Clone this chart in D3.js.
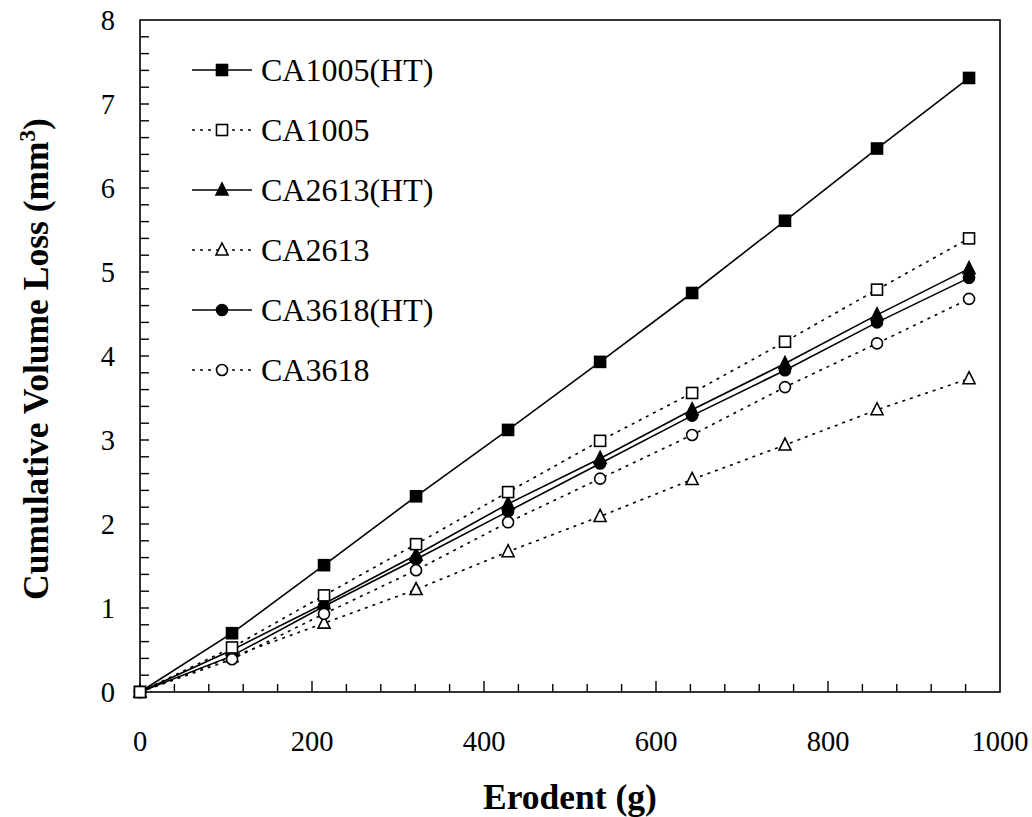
<!DOCTYPE html>
<html>
<head>
<meta charset="utf-8">
<script src="https://cdn.jsdelivr.net/npm/d3@7"></script>
<style>
  body { margin: 0; background: #fff; }
</style>
</head>
<body>
<div id="chart"></div>
<script>
const width = 1032;
const height = 817;
const serif = "Liberation Serif";

// erodent mass (g)
const erodent = [0, 107, 214, 321, 428, 535, 642, 750, 857, 964];

const ca1005ht = [0, 0.70, 1.51, 2.33, 3.12, 3.93, 4.75, 5.61, 6.47, 7.31];
const ca1005   = [0, 0.53, 1.15, 1.76, 2.38, 2.99, 3.56, 4.17, 4.79, 5.40];
const ca2613ht = [0, 0.50, 1.05, 1.63, 2.24, 2.78, 3.36, 3.91, 4.49, 5.04];
const ca2613   = [0, 0.42, 0.82, 1.22, 1.67, 2.09, 2.53, 2.94, 3.36, 3.73];
const ca3618ht = [0, 0.43, 1.02, 1.58, 2.15, 2.72, 3.29, 3.83, 4.40, 4.93];
const ca3618   = [0, 0.39, 0.93, 1.45, 2.02, 2.54, 3.06, 3.63, 4.15, 4.68];

const seriesNames = ["CA1005(HT)", "CA1005", "CA2613(HT)", "CA2613", "CA3618(HT)", "CA3618"];
const seriesValues = [ca1005ht, ca1005, ca2613ht, ca2613, ca3618ht, ca3618];
const seriesShape = ["square", "square", "triangle", "triangle", "circle", "circle"];
const seriesFilled = [true, false, true, false, true, false];
const drawOrder = [0, 2, 3, 4, 5, 1];

const xTicks = [0, 200, 400, 600, 800, 1000];
const yTicks = [0, 1, 2, 3, 4, 5, 6, 7, 8];

const margin = { left: 140, top: 20, right: 32, bottom: 125 };

const svg = d3.select("#chart")
  .append("svg")
  .attr("width", width)
  .attr("height", height)
  .attr("font-family", serif);

const x = d3.scaleLinear().domain([0, 1000]).range([margin.left, width - margin.right]);
const y = d3.scaleLinear().domain([0, 8]).range([height - margin.bottom, margin.top]);

// frame
svg.append("rect")
  .attr("x", x(0)).attr("y", y(8))
  .attr("width", x(1000) - x(0)).attr("height", y(0) - y(8))
  .attr("fill", "none").attr("stroke", "#000").attr("stroke-width", 1.6);

// minor + major ticks pointing inward
const xMinor = d3.range(0, 1001, 40);
svg.append("g")
  .selectAll("line")
  .data(xMinor.filter(d => d > 0 && d < 1000))
  .join("line")
  .attr("x1", d => x(d)).attr("x2", d => x(d))
  .attr("y1", y(0)).attr("y2", d => y(0) - (d % 200 === 0 ? 11 : 8))
  .attr("stroke", "#000").attr("stroke-width", 1.4);

const yMinor = d3.range(0, 8.01, 0.2).map(d => +d.toFixed(1));
svg.append("g")
  .selectAll("line")
  .data(yMinor.filter(d => d > 0 && d < 8))
  .join("line")
  .attr("x1", x(0)).attr("x2", x(0) + 9)
  .attr("y1", d => y(d)).attr("y2", d => y(d))
  .attr("stroke", "#000").attr("stroke-width", 1.4);

// tick labels
svg.append("g")
  .selectAll("text")
  .data(xTicks)
  .join("text")
  .attr("x", d => x(d))
  .attr("y", y(0) + 59)
  .attr("text-anchor", "middle")
  .attr("font-family", serif)
  .attr("font-size", 28.5)
  .text(d => d);

svg.append("g")
  .selectAll("text")
  .data(yTicks)
  .join("text")
  .attr("x", x(0) - 25)
  .attr("y", d => y(d) + 10)
  .attr("text-anchor", "end")
  .attr("font-family", serif)
  .attr("font-size", 28.5)
  .text(d => d);

// axis titles
svg.append("text")
  .attr("x", (x(0) + x(1000)) / 2)
  .attr("y", 809)
  .attr("text-anchor", "middle")
  .attr("font-family", serif)
  .attr("font-size", 35.5)
  .attr("font-weight", "bold")
  .text("Erodent (g)");

const yTitle = svg.append("text")
  .attr("transform", "translate(48, 359) rotate(-90)")
  .attr("text-anchor", "middle")
  .attr("font-family", serif)
  .attr("font-size", 35.5)
  .attr("font-weight", "bold");
yTitle.append("tspan").text("Cumulative Volume Loss (mm");
yTitle.append("tspan").attr("font-size", 23).attr("dy", -13).text("3");
yTitle.append("tspan").attr("dy", 13).text(")");

// markers
function drawMarker(g, shape, filled, cx, cy) {
  const fill = filled ? "#000" : "#fff";
  const sw = 1.6;
  if (shape === "square") {
    g.append("rect")
      .attr("x", cx - 5.5).attr("y", cy - 5.5)
      .attr("width", 11).attr("height", 11)
      .attr("fill", fill).attr("stroke", "#000").attr("stroke-width", sw);
  } else if (shape === "triangle") {
    g.append("path")
      .attr("d", `M${cx},${cy - 7}L${cx + 6},${cy + 5}L${cx - 6},${cy + 5}Z`)
      .attr("fill", fill).attr("stroke", "#000").attr("stroke-width", sw);
  } else {
    g.append("circle")
      .attr("cx", cx).attr("cy", cy).attr("r", 5.5)
      .attr("fill", fill).attr("stroke", "#000").attr("stroke-width", sw);
  }
}

const line = d3.line().x(d => x(d[0])).y(d => y(d[1]));

drawOrder.forEach(i => {
  const pts = erodent.map((e, k) => [e, seriesValues[i][k]]);
  const g = svg.append("g");
  g.append("path")
    .attr("d", line(pts))
    .attr("fill", "none")
    .attr("stroke", "#000")
    .attr("stroke-width", 1.6)
    .attr("stroke-dasharray", seriesFilled[i] ? null : "3,5");
  pts.forEach(p => drawMarker(g, seriesShape[i], seriesFilled[i], x(p[0]), y(p[1])));
});

// legend
const legend = svg.append("g");
seriesNames.forEach((name, i) => {
  const ly = 70 + i * 60;
  const g = legend.append("g");
  g.append("line")
    .attr("x1", 192).attr("x2", 252)
    .attr("y1", ly).attr("y2", ly)
    .attr("stroke", "#000").attr("stroke-width", 1.6)
    .attr("stroke-dasharray", seriesFilled[i] ? null : "3,5");
  drawMarker(g, seriesShape[i], seriesFilled[i], 222, ly);
  g.append("text")
    .attr("x", 261).attr("y", ly + 11)
    .attr("font-family", serif)
    .attr("font-size", 32)
    .text(name);
});
</script>
</body>
</html>
